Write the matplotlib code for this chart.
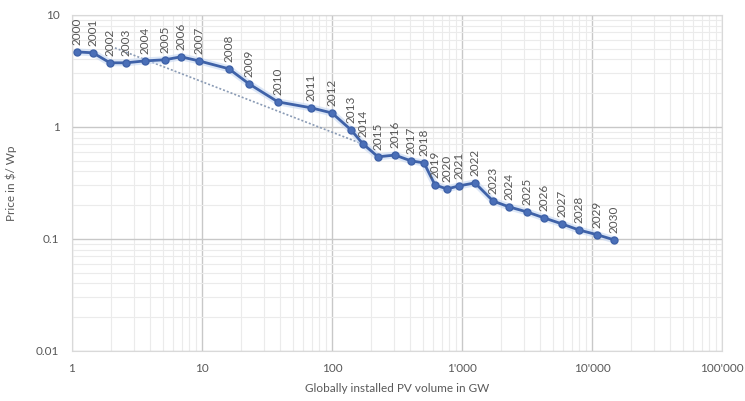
import numpy as np
import matplotlib
matplotlib.use("Agg")
import matplotlib.pyplot as plt
from matplotlib.ticker import FixedLocator, LogLocator, NullFormatter

plt.rcParams['font.family'] = ['Lato', 'DejaVu Sans']

years = list(range(2000, 2031))
volume_gw = [1.09, 1.45, 1.96, 2.6, 3.64, 5.19, 6.89, 9.48, 16.1, 23.0,
             38.4, 68.9, 100, 140, 173, 226, 305, 405, 510, 620,
             767, 948, 1259, 1731, 2300, 3162, 4275, 5875, 7943, 10920, 14770]
price = [4.67, 4.58, 3.73, 3.73, 3.88, 3.97, 4.22, 3.88, 3.30, 2.42,
         1.67, 1.48, 1.33, 0.94, 0.705, 0.54, 0.56, 0.497, 0.477, 0.303,
         0.279, 0.297, 0.316, 0.218, 0.193, 0.174, 0.154, 0.136, 0.120, 0.109, 0.098]

# dotted trend line (learning curve)
trend_x = [2.14, 179]
trend_y = [5.07, 0.69]

x_ticks = [1, 10, 100, 1000, 10000, 100000]
x_tick_labels = ["1", "10", "100", "1'000", "10'000", "100'000"]
y_ticks = [0.01, 0.1, 1, 10]
y_tick_labels = ["0.01", "0.1", "1", "10"]

fig = plt.figure(figsize=(7.45, 4.01), dpi=100)
ax = fig.add_axes([0.0966, 0.125, 0.8725, 0.838])

ax.set_xscale('log')
ax.set_yscale('log')
ax.set_xlim(1, 100000)
ax.set_ylim(0.01, 10)

ax.xaxis.set_major_locator(FixedLocator(x_ticks))
ax.set_xticklabels(x_tick_labels)
ax.yaxis.set_major_locator(FixedLocator(y_ticks))
ax.set_yticklabels(y_tick_labels)
ax.xaxis.set_minor_locator(LogLocator(base=10, subs=np.arange(2, 10)))
ax.yaxis.set_minor_locator(LogLocator(base=10, subs=np.arange(2, 10)))
ax.xaxis.set_minor_formatter(NullFormatter())
ax.yaxis.set_minor_formatter(NullFormatter())

ax.grid(True, which='major', color='#c8c8c8', linewidth=1.0)
ax.grid(True, which='minor', color='#ebebeb', linewidth=0.8)
ax.set_axisbelow(True)
for s in ax.spines.values():
    s.set_color('#d9d9d9')
    s.set_linewidth(0.8)
ax.tick_params(which='both', length=0, colors='#595959', labelsize=8.5, pad=9)

ax.plot(trend_x, trend_y, linestyle=(0, (1.2, 1.2)), color='#8a9bb5', linewidth=1.2, zorder=2)

# glow under the line
ax.plot(volume_gw, price, color='#c6d7f2', linewidth=5, alpha=0.6, zorder=3,
        solid_capstyle='round')
ax.plot(volume_gw, price, color='#3f62a8', linewidth=2, marker='o', markersize=5,
        markerfacecolor='#4a6fb8', markeredgecolor='#3f62a8', zorder=4)

for yr, xv, yv in zip(years, volume_gw, price):
    ax.annotate(str(yr), (xv, yv), xytext=(0, 5), textcoords='offset points',
                rotation=90, ha='center', va='bottom', fontsize=8.5,
                color='#555555', zorder=5)

ax.set_xlabel('Globally installed PV volume in GW', fontsize=8.5, color='#595959', labelpad=6)
ax.set_ylabel('Price in $/ Wp', fontsize=8.5, color='#595959', labelpad=14)

fig.savefig('out.png', dpi=100)
